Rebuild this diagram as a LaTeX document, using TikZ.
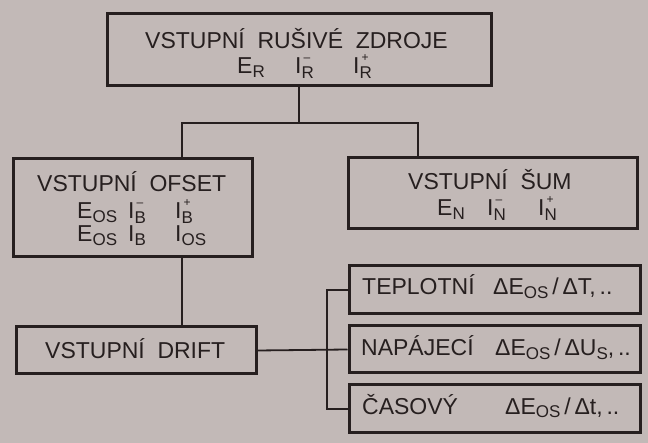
\documentclass[tikz,border=0pt]{standalone}
\usepackage{fontspec}
\setmainfont{Liberation Sans}
\usetikzlibrary{calc}
\definecolor{paper}{RGB}{194,185,183}
\definecolor{ink}{RGB}{38,31,31}
% symbol with subscript
\newcommand\sbx[2]{#1\raisebox{-0.3ex}{\fontsize{17}{17}\selectfont #2}}
% symbol with stacked superscript and subscript (optional: raise of the superscript)
\newcommand\stk[4][1.0ex]{#2\rlap{\raisebox{#1}{\fontsize{12}{12}\selectfont\,#3}}\raisebox{-0.4ex}{\fontsize{17}{17}\selectfont #4}}
% wider gap between words
\newcommand\gap{\hspace{0.55em}}
\begin{document}
\begin{tikzpicture}[x=1pt,y=-1pt,
  box/.style={draw=ink,line width=3pt,rectangle,inner sep=0pt,fill=none},
  wire/.style={draw=ink,line width=1.8pt},
  lbl/.style={anchor=base west,inner sep=0pt,text=ink,font=\fontsize{23}{23}\selectfont}]
\fill[paper] (0,0) rectangle (648,443);
\useasboundingbox (0,0) rectangle (648,443);

% boxes
\node[box,minimum width=384pt,minimum height=72pt] (top) at (299,50) {};
\node[box,minimum width=239pt,minimum height=98pt] (ofs) at (132.5,208) {};
\node[box,minimum width=289pt,minimum height=71pt] (sum) at (492.5,193.5) {};
\node[box,minimum width=240pt,minimum height=47pt] (drift) at (136,350.5) {};
\node[box,minimum width=291pt,minimum height=48pt] (tep) at (494.5,290) {};
\node[box,minimum width=291pt,minimum height=47pt] (nap) at (494.5,349.5) {};
\node[box,minimum width=291pt,minimum height=48pt] (cas) at (494.5,409) {};

% connectors
\coordinate (split) at (299,123);
\coordinate (ol) at (182,123);
\coordinate (nr) at (418,123);
\coordinate (bus) at (327,350);
\draw[wire] (top.south) -- (split);
\draw[wire] (ofs.north -| ol) -- (ol) -- (nr) -- (sum.north -| nr);
\draw[wire] (ofs.south -| ol) -- (drift.north -| ol);
\draw[wire] (drift.east) -- (nap.west);
\draw[wire] (tep.west) -| (bus) |- (cas.west);

% texts
\node[lbl] (t1) at (145,49) {VSTUPNÍ\gap RUŠIVÉ\gap ZDROJE};
\node[lbl] (t2) at (237,74) {\sbx{E}{R}};
\node[lbl] (t3) at (295,74) {\stk{I}{--}{R}};
\node[lbl] (t4) at (353,74) {\stk{I}{+}{R}};

\node[lbl] (o1) at (37,192) {VSTUPNÍ\gap OFSET};
\node[lbl] (o2) at (77,219) {\sbx{E}{OS}};
\node[lbl] (o3) at (128,219) {\stk{I}{--}{B}};
\node[lbl] (o4) at (175,219) {\stk{I}{+}{B}};
\node[lbl] (o5) at (77,242) {\sbx{E}{OS}};
\node[lbl] (o6) at (128,242) {\sbx{I}{B}};
\node[lbl] (o7) at (175,242) {\sbx{I}{OS}};

\node[lbl] (s1) at (408,190) {VSTUPNÍ\gap ŠUM};
\node[lbl] (s2) at (437,216) {\sbx{E}{N}};
\node[lbl] (s3) at (487,216) {\stk{I}{--}{N}};
\node[lbl] (s4) at (538,216) {\stk{I}{+}{N}};

\node[lbl] (d1) at (45,359) {VSTUPNÍ\gap DRIFT};

\node[lbl] (a1) at (362,295) {TEPLOTNÍ};
\node[lbl] (a2) at (493,295) {Δ\sbx{E}{OS}\,/\,ΔT,\,..};
\node[lbl] (b1) at (361,356) {NAPÁJECÍ};
\node[lbl] (b2) at (495,356) {Δ\sbx{E}{OS}\,/\,Δ\sbx{U}{S},\,..};
\node[lbl] (c1) at (362,414) {ČASOVÝ};
\node[lbl] (c2) at (505,414) {Δ\sbx{E}{OS}\,/\,Δt,\,..};
\end{tikzpicture}
\end{document}
